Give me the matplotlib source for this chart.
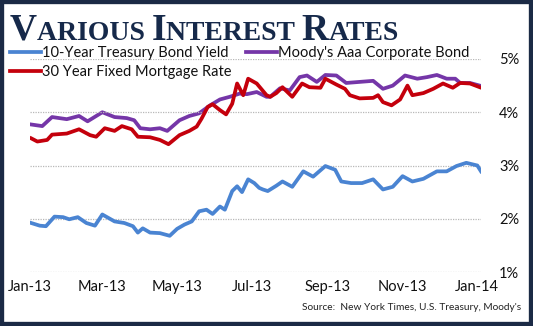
import matplotlib
matplotlib.use("Agg")
import matplotlib.pyplot as plt
import matplotlib.dates as mdates
from matplotlib.offsetbox import TextArea, HPacker, AnnotationBbox
from matplotlib.patches import Rectangle
import pandas as pd

# daily closes, sampled off the weekly series
treasury_dates = ["2013-01-02", "2013-01-09", "2013-01-14", "2013-01-21", "2013-01-28", "2013-02-02",
                  "2013-02-09", "2013-02-16", "2013-02-23", "2013-03-01", "2013-03-11", "2013-03-19",
                  "2013-03-26", "2013-03-30", "2013-04-03", "2013-04-09", "2013-04-17", "2013-04-25",
                  "2013-05-01", "2013-05-07", "2013-05-13", "2013-05-19", "2013-05-25", "2013-05-30",
                  "2013-06-05", "2013-06-09", "2013-06-15", "2013-06-19", "2013-06-23", "2013-06-28",
                  "2013-07-03", "2013-07-07", "2013-07-10", "2013-07-14", "2013-07-21", "2013-07-26",
                  "2013-08-03", "2013-08-12", "2013-08-20", "2013-08-30", "2013-09-07", "2013-09-12",
                  "2013-09-20", "2013-09-29", "2013-10-08", "2013-10-16", "2013-10-24", "2013-11-01",
                  "2013-11-09", "2013-11-18", "2013-11-29", "2013-12-07", "2013-12-15", "2013-12-23",
                  "2014-01-01", "2014-01-04"]
treasury = [1.92, 1.87, 1.86, 2.04, 2.03, 1.99, 2.03, 1.92, 1.87, 2.08, 1.95, 1.92,
            1.86, 1.74, 1.82, 1.74, 1.73, 1.68, 1.81, 1.89, 1.95, 2.14, 2.17, 2.09,
            2.23, 2.17, 2.52, 2.61, 2.50, 2.74, 2.67, 2.58, 2.55, 2.52, 2.62, 2.70,
            2.60, 2.89, 2.79, 2.99, 2.92, 2.70, 2.67, 2.67, 2.74, 2.55, 2.60, 2.80,
            2.70, 2.75, 2.89, 2.89, 2.99, 3.05, 3.00, 2.89]

moodys_dates = ["2013-01-02", "2013-01-11", "2013-01-19", "2013-01-31", "2013-02-10", "2013-02-17",
                "2013-03-01", "2013-03-11", "2013-03-21", "2013-03-27", "2013-04-01", "2013-04-09",
                "2013-04-17", "2013-04-23", "2013-05-03", "2013-05-11", "2013-05-19", "2013-05-28",
                "2013-06-05", "2013-06-13", "2013-06-21", "2013-06-27", "2013-07-05", "2013-07-13",
                "2013-07-16", "2013-07-24", "2013-08-01", "2013-08-09", "2013-08-15", "2013-08-23",
                "2013-08-30", "2013-09-08", "2013-09-16", "2013-09-27", "2013-10-08", "2013-10-16",
                "2013-10-24", "2013-11-03", "2013-11-13", "2013-11-21", "2013-11-29", "2013-12-07",
                "2013-12-14", "2013-12-18", "2013-12-26", "2014-01-03"]
moodys = [3.77, 3.74, 3.91, 3.87, 3.93, 3.83, 4.00, 3.91, 3.89, 3.85, 3.70, 3.68,
          3.70, 3.65, 3.85, 3.93, 3.98, 4.13, 4.24, 4.29, 4.35, 4.34, 4.38, 4.29,
          4.29, 4.45, 4.41, 4.66, 4.69, 4.57, 4.70, 4.69, 4.55, 4.57, 4.59, 4.44,
          4.50, 4.69, 4.63, 4.66, 4.70, 4.63, 4.63, 4.55, 4.55, 4.50]

mortgage_dates = ["2013-01-02", "2013-01-07", "2013-01-15", "2013-01-19", "2013-01-31", "2013-02-10",
                  "2013-02-19", "2013-02-24", "2013-03-03", "2013-03-11", "2013-03-17", "2013-03-25",
                  "2013-03-30", "2013-04-09", "2013-04-17", "2013-04-24", "2013-05-03", "2013-05-11",
                  "2013-05-17", "2013-05-21", "2013-05-26", "2013-05-30", "2013-06-05", "2013-06-10",
                  "2013-06-15", "2013-06-19", "2013-06-24", "2013-06-28", "2013-07-05", "2013-07-13",
                  "2013-07-16", "2013-07-21", "2013-07-26", "2013-08-03", "2013-08-11", "2013-08-17",
                  "2013-08-26", "2013-08-30", "2013-09-08", "2013-09-15", "2013-09-19", "2013-09-27",
                  "2013-10-08", "2013-10-12", "2013-10-16", "2013-10-23", "2013-10-30", "2013-11-05",
                  "2013-11-09", "2013-11-18", "2013-11-26", "2013-12-04", "2013-12-12", "2013-12-18",
                  "2013-12-26", "2014-01-03"]
mortgage = [3.51, 3.45, 3.48, 3.58, 3.60, 3.68, 3.57, 3.54, 3.70, 3.65, 3.74, 3.68,
            3.54, 3.53, 3.48, 3.40, 3.57, 3.65, 3.73, 3.88, 4.10, 4.15, 4.04, 3.96,
            4.16, 4.54, 4.32, 4.63, 4.54, 4.32, 4.29, 4.36, 4.47, 4.29, 4.54, 4.47,
            4.46, 4.63, 4.52, 4.44, 4.32, 4.26, 4.27, 4.32, 4.19, 4.13, 4.24, 4.50,
            4.32, 4.36, 4.44, 4.54, 4.46, 4.55, 4.54, 4.47]

y_ticks = [1, 2, 3, 4, 5]
x_ticks = ["2013-01-01", "2013-03-01", "2013-05-01", "2013-07-01", "2013-09-01", "2013-11-01", "2014-01-01"]

navy = "#16294a"
sans = "Lato"

fig = plt.figure(figsize=(5.33, 3.26), dpi=100)
ax = fig.add_axes([30 / 533, 1 - 272 / 326, 451 / 533, 213 / 326])

ax.plot(pd.to_datetime(treasury_dates), treasury, color="#4a84d2", lw=2.7,
        label="10-Year Treasury Bond Yield", solid_joinstyle="round")
ax.plot(pd.to_datetime(mortgage_dates), mortgage, color="#c4000c", lw=2.7,
        label="30 Year Fixed Mortgage Rate", solid_joinstyle="round")
ax.plot(pd.to_datetime(moodys_dates), moodys, color="#7536a8", lw=2.7,
        label="Moody's Aaa Corporate Bond", solid_joinstyle="round")
# purple sits under the red line
ax.lines[2].set_zorder(1.5)

ax.set_ylim(1, 5)
ax.set_xlim(pd.Timestamp("2013-01-01"), pd.Timestamp("2014-01-04"))
ax.set_yticks(y_ticks)
ax.set_yticklabels([f"{v}%" for v in y_ticks])
ax.yaxis.tick_right()
ax.set_xticks(pd.to_datetime(x_ticks))
ax.xaxis.set_major_formatter(mdates.DateFormatter("%b-%y"))
ax.tick_params(length=0, labelsize=10.5, labelcolor="#111111")
ax.tick_params(axis="y", pad=13)
ax.tick_params(axis="x", pad=6)
for lab in ax.get_xticklabels() + ax.get_yticklabels():
    lab.set_fontfamily(sans)
ax.grid(axis="y", color="#b8b8b8", ls=(0, (1, 1)), lw=0.9)
for s in ax.spines.values():
    s.set_visible(False)
ax.set_facecolor("none")

leg = fig.legend(loc="upper left", bbox_to_anchor=(10 / 533, 1 - 46.5 / 326), ncol=2,
                 frameon=False, prop={"family": sans, "size": 10.5}, handlelength=2.1,
                 handletextpad=0.1, columnspacing=1.0, labelspacing=0.3, borderpad=0,
                 borderaxespad=0)
for t in leg.get_texts():
    t.set_color("#111111")

# small-caps title
pieces = [("V", 27), ("ARIOUS ", 20), ("I", 27), ("NTEREST ", 20), ("R", 27), ("ATES", 20)]
areas = [TextArea(s, textprops=dict(fontsize=fs, fontfamily="Liberation Serif",
                                    fontweight="bold", color=navy)) for s, fs in pieces]
title = HPacker(children=areas, align="baseline", pad=0, sep=0)
fig.add_artist(AnnotationBbox(title, (10 / 533, 1 - 48 / 326), xycoords="figure fraction",
                              box_alignment=(0, 0), frameon=False, pad=0))

fig.text(521 / 533, 1 - 308 / 326, "Source:  New York Times, U.S. Treasury, Moody's",
         ha="right", va="center", fontsize=7.3, fontfamily=sans, color="#222222")

fig.add_artist(Rectangle((0, 0), 1, 1, transform=fig.transFigure, fill=False,
                         edgecolor="#1b2a45", lw=6))

fig.savefig("out.png", dpi=100)
